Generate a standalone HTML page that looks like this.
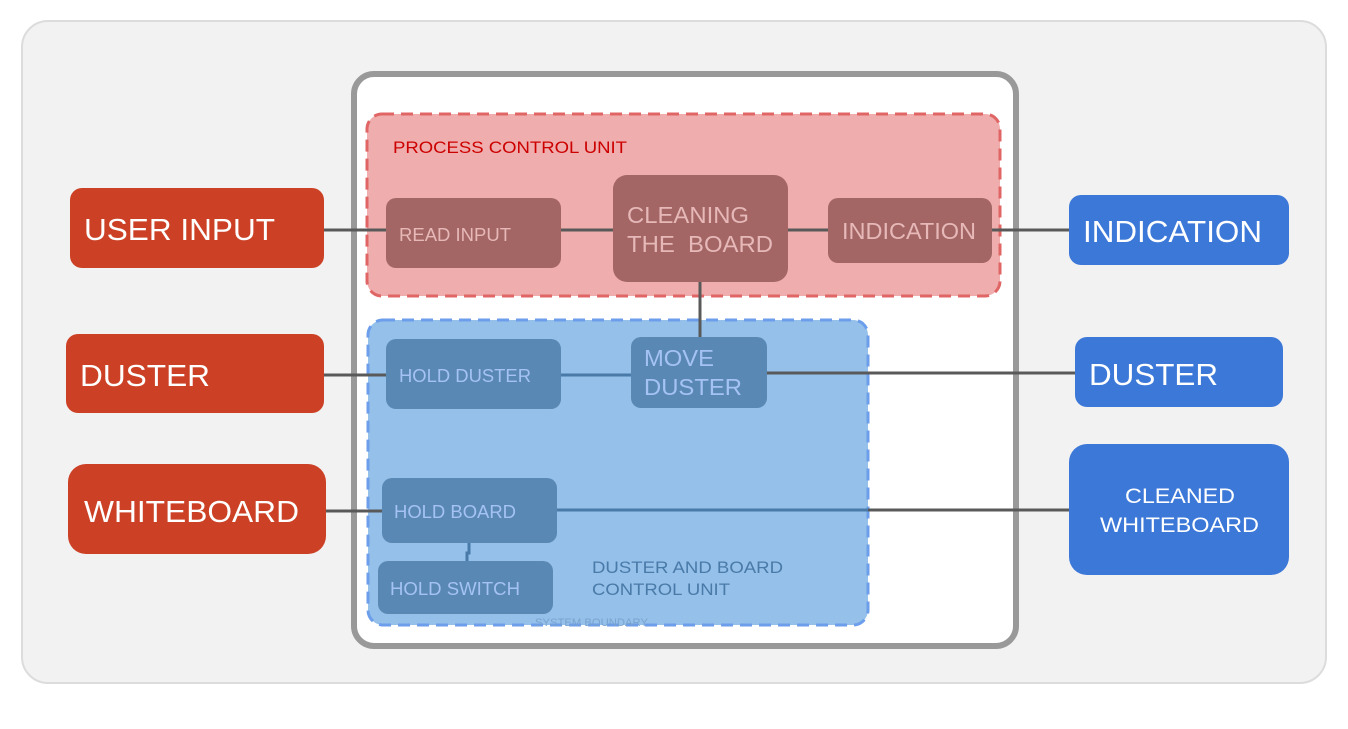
<!DOCTYPE html>
<html><head><meta charset="utf-8"><style>
html,body{margin:0;padding:0;background:#fff;}
svg{display:block;font-family:"Liberation Sans",Arial,sans-serif;}
</style></head><body>
<svg width="1348" height="729" viewBox="0 0 1348 729" xmlns="http://www.w3.org/2000/svg">
<rect x="22" y="21" width="1304" height="662" rx="26" fill="#f2f2f2" stroke="#dcdcdc" stroke-width="2"/>
<rect x="354" y="74" width="662" height="572" rx="20" fill="#fff" stroke="#999" stroke-width="6"/>
<rect x="367" y="114" width="633" height="182" rx="15" fill="#efadad" stroke="#e06666" stroke-width="3" stroke-dasharray="12,7"/>
<rect x="368" y="320" width="500" height="305" rx="15" fill="#94c0ea" stroke="#6d9eeb" stroke-width="3" stroke-dasharray="12,7"/>
<g stroke="#595959" stroke-width="3">
<line x1="324" y1="230" x2="386" y2="230"/>
<line x1="561" y1="230" x2="613" y2="230"/>
<line x1="788" y1="230" x2="828" y2="230"/>
<line x1="992" y1="230" x2="1069" y2="230"/>
<line x1="700" y1="282" x2="700" y2="337"/>
<line x1="324" y1="375" x2="386" y2="375"/>
<line x1="767" y1="373" x2="1075" y2="373"/>
<line x1="326" y1="511" x2="382" y2="511"/>
<line x1="868" y1="510" x2="1069" y2="510"/>
</g>
<g stroke="#4a7aa8" stroke-width="3">
<line x1="561" y1="375" x2="631" y2="375"/>
<line x1="557" y1="510" x2="868" y2="510"/>
<path d="M469 543 V553 H467 V561" fill="none"/>
</g>
<g lengthAdjust="spacingAndGlyphs">
<text x="393" y="153" font-size="17" fill="#cc0000" textLength="234" lengthAdjust="spacingAndGlyphs">PROCESS CONTROL UNIT</text>
<rect x="386" y="198" width="175" height="70" rx="10" fill="#a46665"/>
<text x="399" y="241" font-size="18" fill="#e6b8b8" textLength="112" lengthAdjust="spacingAndGlyphs">READ INPUT</text>
<rect x="613" y="175" width="175" height="107" rx="14" fill="#a46665"/>
<text x="627" y="223" font-size="23" fill="#e6b8b8" textLength="122" lengthAdjust="spacingAndGlyphs">CLEANING</text>
<text x="627" y="252" font-size="23" fill="#e6b8b8" xml:space="preserve" textLength="146" lengthAdjust="spacingAndGlyphs">THE  BOARD</text>
<rect x="828" y="198" width="164" height="65" rx="10" fill="#a46665"/>
<text x="842" y="239" font-size="23" fill="#e6b8b8" textLength="134" lengthAdjust="spacingAndGlyphs">INDICATION</text>
<rect x="386" y="339" width="175" height="70" rx="10" fill="#5a88b4"/>
<text x="399" y="382" font-size="18" fill="#a4c2f4" textLength="132" lengthAdjust="spacingAndGlyphs">HOLD DUSTER</text>
<rect x="631" y="337" width="136" height="71" rx="10" fill="#5a88b4"/>
<text x="644" y="366" font-size="23" fill="#a4c2f4" textLength="70" lengthAdjust="spacingAndGlyphs">MOVE</text>
<text x="644" y="395" font-size="23" fill="#a4c2f4" textLength="98" lengthAdjust="spacingAndGlyphs">DUSTER</text>
<rect x="382" y="478" width="175" height="65" rx="10" fill="#5a88b4"/>
<text x="394" y="518" font-size="18" fill="#a4c2f4" textLength="122" lengthAdjust="spacingAndGlyphs">HOLD BOARD</text>
<rect x="378" y="561" width="175" height="53" rx="10" fill="#5a88b4"/>
<text x="390" y="595" font-size="18" fill="#a4c2f4" textLength="130" lengthAdjust="spacingAndGlyphs">HOLD SWITCH</text>
<text x="592" y="573" font-size="17" fill="#4a7aa8" textLength="191" lengthAdjust="spacingAndGlyphs">DUSTER AND BOARD</text>
<text x="592" y="595" font-size="17" fill="#4a7aa8" textLength="138" lengthAdjust="spacingAndGlyphs">CONTROL UNIT</text>
<text x="535" y="626" font-size="11" fill="#7aa3cf" textLength="113" lengthAdjust="spacingAndGlyphs">SYSTEM   BOUNDARY</text>
<rect x="70" y="188" width="254" height="80" rx="12" fill="#cc4125"/>
<text x="84" y="240" font-size="31" fill="#fff" textLength="191" lengthAdjust="spacingAndGlyphs">USER INPUT</text>
<rect x="66" y="334" width="258" height="79" rx="12" fill="#cc4125"/>
<text x="80" y="386" font-size="31" fill="#fff" textLength="130" lengthAdjust="spacingAndGlyphs">DUSTER</text>
<rect x="68" y="464" width="258" height="90" rx="18" fill="#cc4125"/>
<text x="84" y="522" font-size="31" fill="#fff" textLength="215" lengthAdjust="spacingAndGlyphs">WHITEBOARD</text>
<rect x="1069" y="195" width="220" height="70" rx="12" fill="#3c78d8"/>
<text x="1083" y="242" font-size="31" fill="#fff" textLength="179" lengthAdjust="spacingAndGlyphs">INDICATION</text>
<rect x="1075" y="337" width="208" height="70" rx="12" fill="#3c78d8"/>
<text x="1089" y="385" font-size="31" fill="#fff" textLength="129" lengthAdjust="spacingAndGlyphs">DUSTER</text>
<rect x="1069" y="444" width="220" height="131" rx="18" fill="#3c78d8"/>
<text x="1125" y="503" font-size="21" fill="#fff" textLength="110" lengthAdjust="spacingAndGlyphs">CLEANED</text>
<text x="1100" y="532" font-size="21" fill="#fff" textLength="159" lengthAdjust="spacingAndGlyphs">WHITEBOARD</text>
</g>
</svg>
</body></html>
